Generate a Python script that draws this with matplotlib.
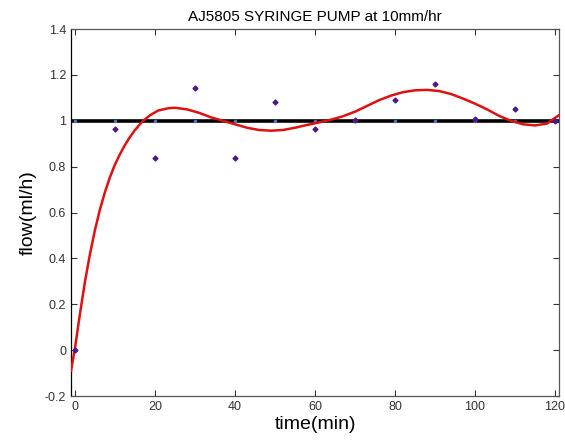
import matplotlib
matplotlib.use("Agg")
import matplotlib.pyplot as plt

plt.rcParams['font.family'] = ['Liberation Sans', 'DejaVu Sans']

time_min = [0, 10, 20, 30, 40, 50, 60, 70, 80, 90, 100, 110, 120]
flow = [0.0, 0.965, 0.84, 1.145, 0.84, 1.08, 0.965, 1.005, 1.09, 1.16, 1.01, 1.05, 1.0]
target = [1.0] * len(time_min)

fit_x = [-1, 0, 1.25, 2.5, 3.75, 5, 6.25, 7.5, 8.75, 10, 11.25, 12.5, 13.75, 15,
         16.7, 18.8, 20.8, 23.3, 25, 28, 31, 34, 37, 40, 43, 46, 49, 52, 55, 58,
         61, 64, 67, 70, 73, 76, 79, 82, 85, 88, 91, 94, 97, 100, 103, 106, 109,
         112, 115, 118, 121]
fit_y = [-0.09, 0.01, 0.16, 0.30, 0.42, 0.525, 0.615, 0.69, 0.755, 0.81, 0.855,
         0.895, 0.93, 0.96, 0.995, 1.025, 1.045, 1.055, 1.057, 1.05, 1.035, 1.015,
         1.0, 0.985, 0.97, 0.96, 0.957, 0.96, 0.97, 0.982, 0.993, 1.005, 1.02,
         1.04, 1.065, 1.09, 1.11, 1.125, 1.133, 1.135, 1.13, 1.117, 1.097, 1.075,
         1.05, 1.022, 1.0, 0.985, 0.98, 0.988, 1.025]

fig = plt.figure(figsize=(5.65, 4.41), dpi=100)
ax = fig.add_axes([0.1257, 0.102, 0.8637, 0.832])

ax.axhline(1.0, color='black', lw=2.6, zorder=2)
ax.plot(time_min, target, linestyle='none', marker='.', ms=3, color='#4a78d0', zorder=3)
ax.plot(fit_x, fit_y, color='#e01010', lw=1.8, zorder=4)
ax.plot(time_min, flow, linestyle='none', marker='D', ms=2.5, color='#4b1a8c', zorder=5)

ax.set_xlim(-1, 121)
ax.set_ylim(-0.2, 1.4)
ax.set_xticks([0, 20, 40, 60, 80, 100, 120])
ax.set_yticks([-0.2, 0, 0.2, 0.4, 0.6, 0.8, 1.0, 1.2, 1.4])
ax.set_yticklabels(['-0.2', '0', '0.2', '0.4', '0.6', '0.8', '1', '1.2', '1.4'])
ax.tick_params(direction='in', length=4, labelsize=9, colors='#333333', top=True, right=True)
ax.tick_params(labeltop=False, labelright=False)
for s in ax.spines.values():
    s.set_color('#555555')
    s.set_linewidth(0.9)
ax.spines['left'].set_color('black')

ax.set_title('AJ5805 SYRINGE PUMP at 10mm/hr', fontsize=11, pad=6)
ax.set_xlabel('time(min)', fontsize=14, labelpad=2)
ax.set_ylabel('flow(ml/h)', fontsize=14, labelpad=6)

fig.savefig('out.png', dpi=100)
